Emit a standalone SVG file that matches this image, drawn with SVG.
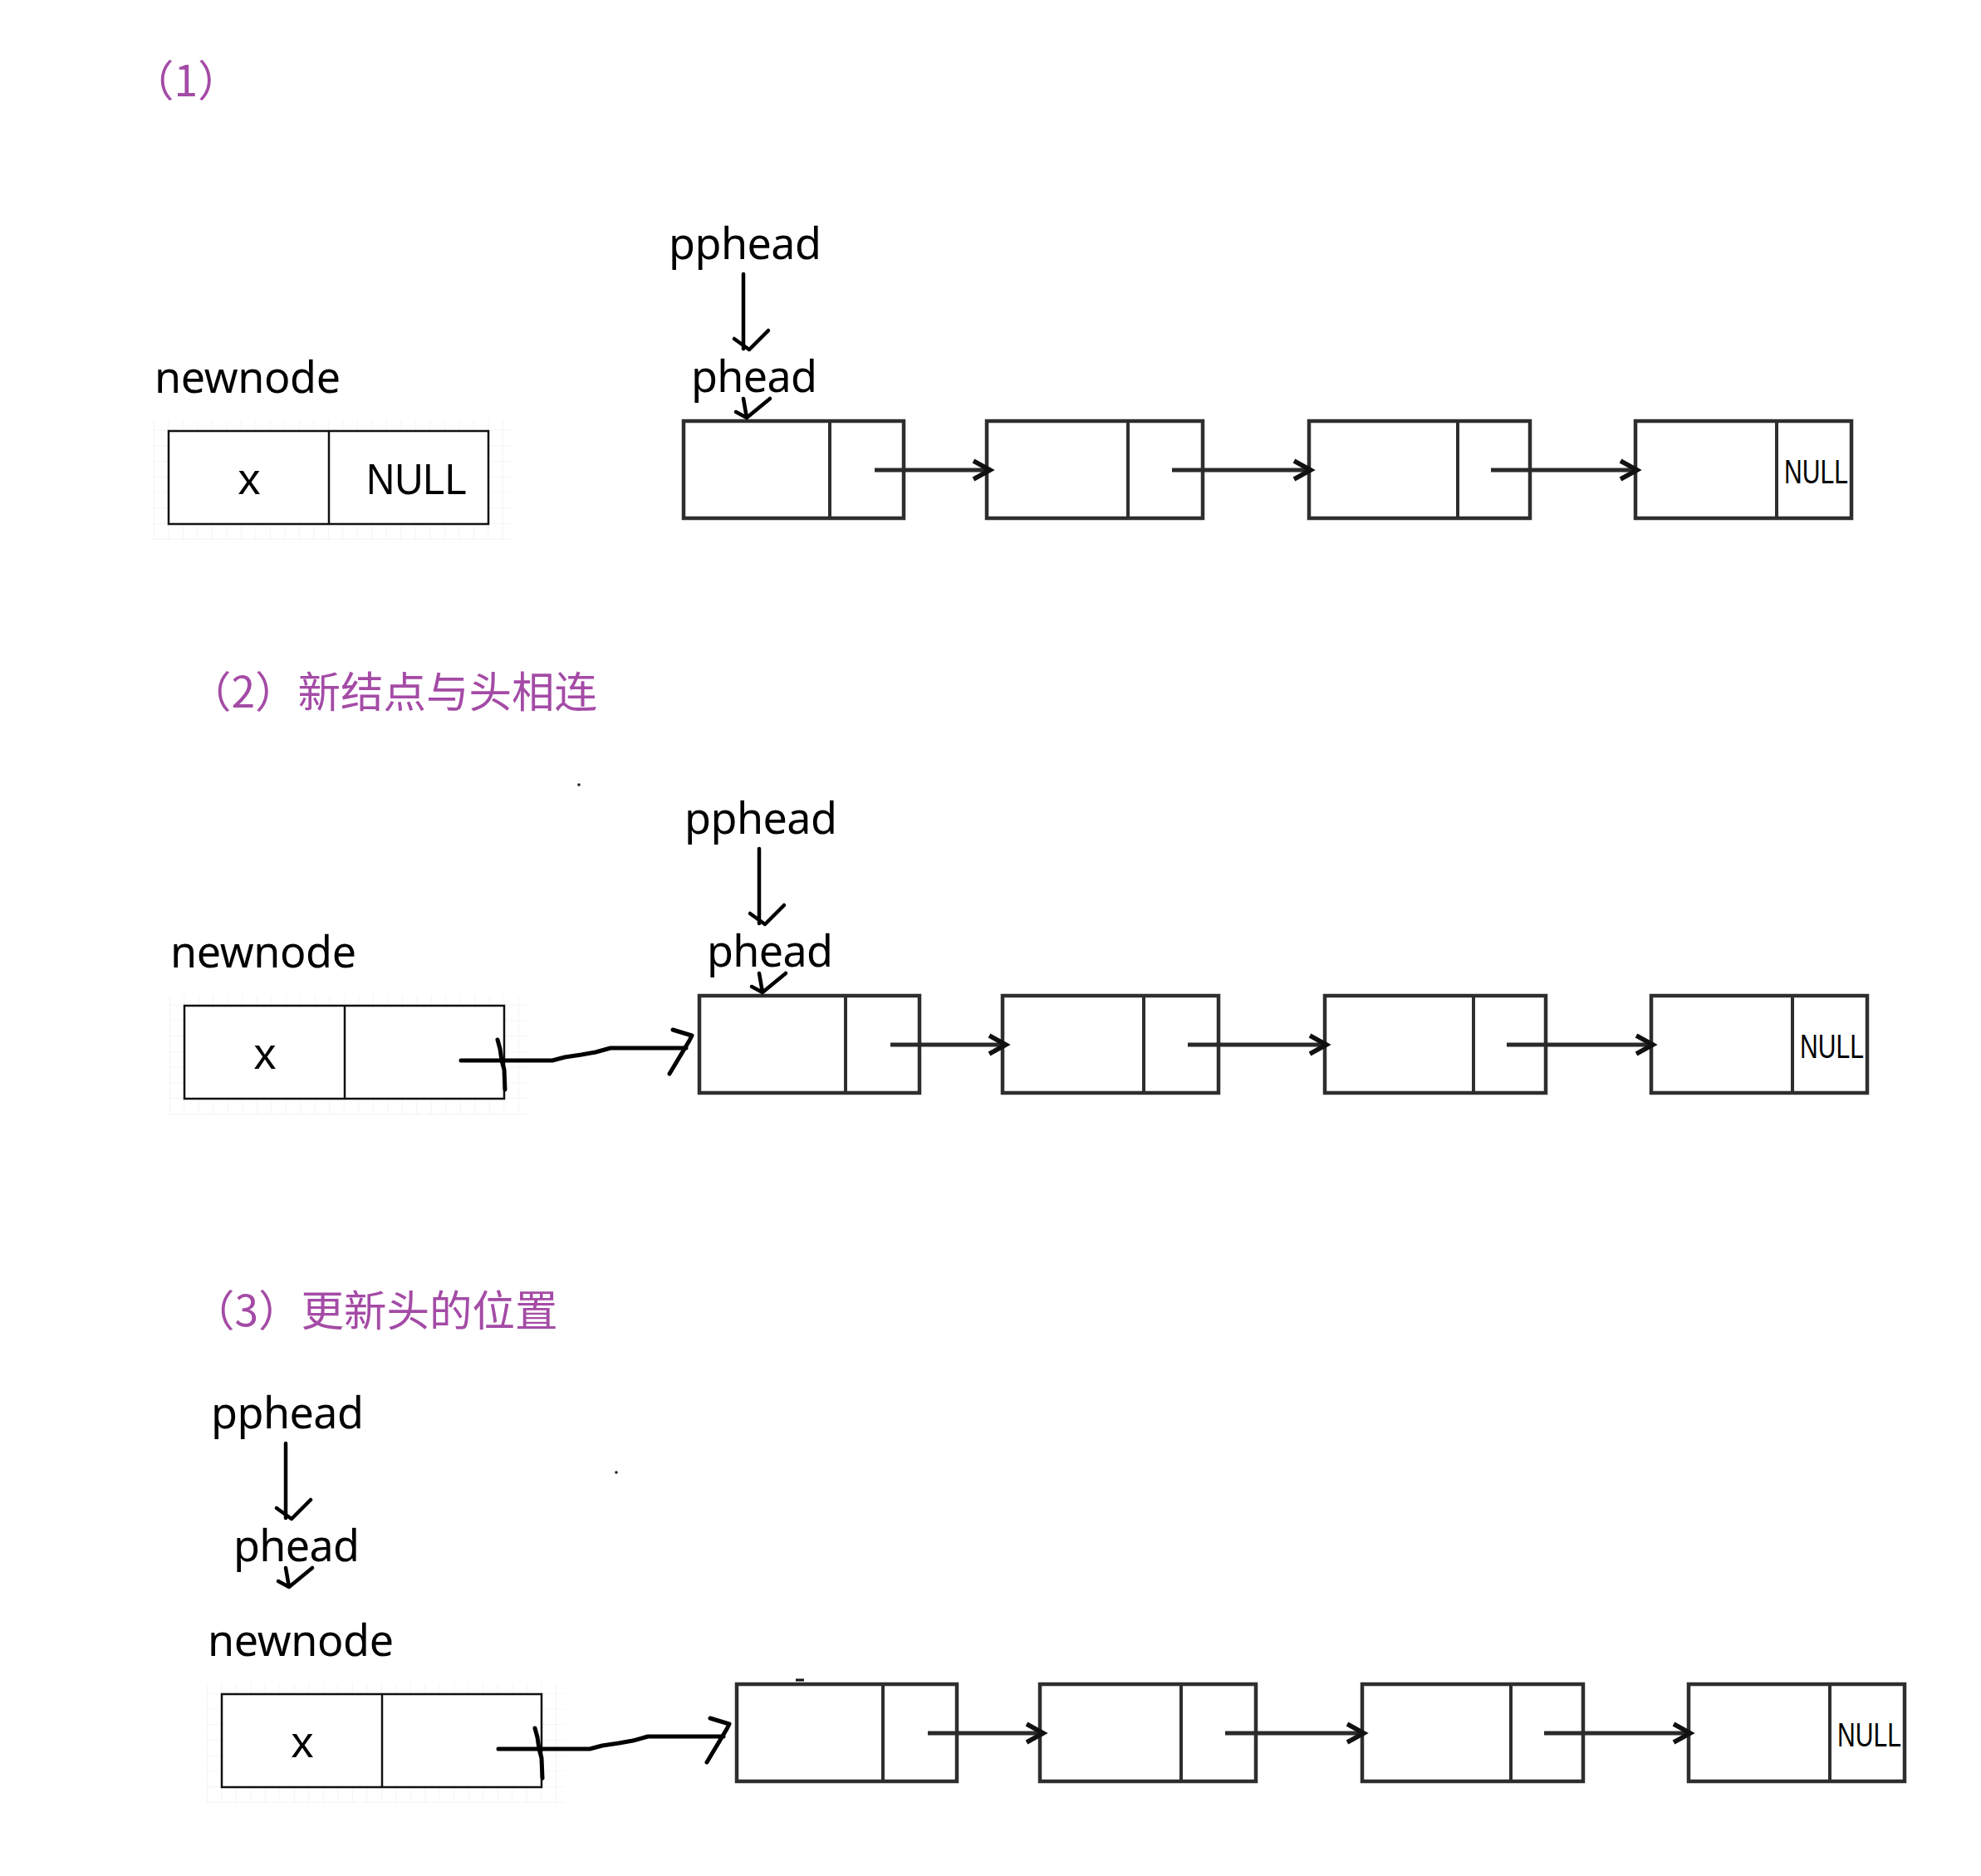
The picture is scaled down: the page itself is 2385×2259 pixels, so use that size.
<svg xmlns="http://www.w3.org/2000/svg" xmlns:xlink="http://www.w3.org/1999/xlink" width="2385" height="2259" viewBox="0 0 2385 2259">
<style>
.title{font-family:"Noto Sans CJK SC","Noto Sans",sans-serif;font-size:51.5px;fill:#a44ba6}
.lbl{font-family:"Noto Sans","Noto Sans CJK SC",sans-serif;font-size:52px;fill:#000}
.val{font-family:"Liberation Sans",Arial,sans-serif;fill:#000}
.ptr{fill:none;stroke:#000;stroke-width:4.5;stroke-linecap:round;stroke-linejoin:round}
.hand{fill:none;stroke:#000;stroke-width:5;stroke-linecap:round;stroke-linejoin:round}
.lnode{fill:#fff;stroke:#2e2e2e;stroke-width:4.5}
.ldiv{stroke:#2e2e2e;stroke-width:4}
.link{fill:none;stroke:#2a2a2a;stroke-width:5}
.nbox{fill:#fff;stroke:#111;stroke-width:2.5}
.ndiv{stroke:#111;stroke-width:2.5}
</style>
<defs>
<path id="ah" d="M-20,-11 L0,0 L-20,11" fill="none" stroke="#111" stroke-width="5.5" stroke-linejoin="miter"/>
<pattern id="grid" patternUnits="userSpaceOnUse" x="202.3" y="498.8" width="17.5" height="18.75">
<path d="M0,0 V18.75 M0,0 H17.5" fill="none" stroke="#ebebeb" stroke-width="1.2"/>
</pattern>
</defs>
<rect width="2385" height="2259" fill="#fff"/>

<g id="titles">
<text class="title" x="158" y="116">（1）</text>
<text class="title" x="227" y="852">（2）新结点与头相连</text>
<text class="title" x="231" y="1597">（3）更新头的位置</text>
</g>

<!-- Section 1 -->
<g id="sec1">
<g id="s1-labels">
<text class="lbl" x="805" y="312" textLength="184">pphead</text>
<text class="lbl" x="832" y="472" textLength="152">phead</text>
<text class="lbl" x="186" y="473" textLength="224">newnode</text>
</g>
<g id="s1-newnode">
<rect x="184" y="506" width="432" height="144" fill="url(#grid)"/>
<rect class="nbox" x="203" y="519" width="385" height="112"/>
<line class="ndiv" x1="396" y1="519" x2="396" y2="631"/>
<text class="val" x="300" y="595" font-size="54" text-anchor="middle">x</text>
<text class="val" x="441" y="595" font-size="52" textLength="121" lengthAdjust="spacingAndGlyphs">NULL</text>
</g>
<g id="s1-n1"><rect class="lnode" x="823" y="507" width="265" height="117"/><line class="ldiv" x1="999" y1="507" x2="999" y2="624"/></g>
<g id="s1-n2"><rect class="lnode" x="1188" y="507" width="260" height="117"/><line class="ldiv" x1="1358" y1="507" x2="1358" y2="624"/></g>
<g id="s1-n3"><rect class="lnode" x="1576" y="507" width="266" height="117"/><line class="ldiv" x1="1755" y1="507" x2="1755" y2="624"/></g>
<g id="s1-n4"><rect class="lnode" x="1969" y="507" width="260" height="117"/><line class="ldiv" x1="2139" y1="507" x2="2139" y2="624"/>
<text class="val" x="2148" y="582" font-size="40" textLength="77" lengthAdjust="spacingAndGlyphs">NULL</text></g>
<g id="s1-connectors">
<path class="ptr" d="M895,330 L895,420 M884,408 L902,421 L925,398"/>
<path class="ptr" d="M895,480 L899,503 M886,496 L899,503 L927,480"/>
<path class="link" d="M1053,566 H1190 M1411,566 H1576 M1795,566 H1969"/>
<use xlink:href="#ah" x="1192" y="566"/>
<use xlink:href="#ah" x="1578" y="566"/>
<use xlink:href="#ah" x="1971" y="566"/>
</g>
</g>

<!-- Section 2 -->
<g id="sec2" transform="translate(19,692)">
<g id="s2-labels">
<text class="lbl" x="805" y="312" textLength="184">pphead</text>
<text class="lbl" x="832" y="472" textLength="152">phead</text>
<text class="lbl" x="186" y="473" textLength="224">newnode</text>
</g>
<g id="s2-newnode">
<rect x="184" y="506" width="432" height="144" fill="url(#grid)"/>
<rect class="nbox" x="203" y="519" width="385" height="112"/>
<line class="ndiv" x1="396" y1="519" x2="396" y2="631"/>
<text class="val" x="300" y="595" font-size="54" text-anchor="middle">x</text>
</g>
<g id="s2-n1"><rect class="lnode" x="823" y="507" width="265" height="117"/><line class="ldiv" x1="999" y1="507" x2="999" y2="624"/></g>
<g id="s2-n2"><rect class="lnode" x="1188" y="507" width="260" height="117"/><line class="ldiv" x1="1358" y1="507" x2="1358" y2="624"/></g>
<g id="s2-n3"><rect class="lnode" x="1576" y="507" width="266" height="117"/><line class="ldiv" x1="1755" y1="507" x2="1755" y2="624"/></g>
<g id="s2-n4"><rect class="lnode" x="1969" y="507" width="260" height="117"/><line class="ldiv" x1="2139" y1="507" x2="2139" y2="624"/>
<text class="val" x="2148" y="582" font-size="40" textLength="77" lengthAdjust="spacingAndGlyphs">NULL</text></g>
<g id="s2-connectors">
<path class="ptr" d="M895,330 L895,420 M884,408 L902,421 L925,398"/>
<path class="ptr" d="M895,480 L899,503 M886,496 L899,503 L927,480"/>
<path class="link" d="M1053,566 H1190 M1411,566 H1576 M1795,566 H1969"/>
<use xlink:href="#ah" x="1192" y="566"/>
<use xlink:href="#ah" x="1578" y="566"/>
<use xlink:href="#ah" x="1971" y="566"/>
<path class="hand" d="M536,585 L646,585 L661,581 L681,578 L698,575 L716,570 L807,570"/>
<path class="hand" d="M580,560 L583,571 L585,585 L588,596 L589,620" stroke-width="4"/>
<path class="hand" d="M791,548 L814,555 L811,561 L787,601"/>
</g>
</g>
<circle cx="697" cy="945" r="1.8" fill="#222"/>

<!-- Section 3 -->
<g id="sec3">
<g id="s3-labels" transform="translate(-551,1408)">
<text class="lbl" x="805" y="312" textLength="184">pphead</text>
<text class="lbl" x="832" y="472" textLength="152">phead</text>
<path class="ptr" d="M895,330 L895,420 M884,408 L902,421 L925,398"/>
<path class="ptr" d="M895,480 L899,503 M886,496 L899,503 L927,480"/>
</g>
<g transform="translate(64,1521)">
<text class="lbl" x="186" y="473" textLength="224">newnode</text>
<g id="s3-newnode">
<rect x="184" y="506" width="432" height="144" fill="url(#grid)"/>
<rect class="nbox" x="203" y="519" width="385" height="112"/>
<line class="ndiv" x1="396" y1="519" x2="396" y2="631"/>
<text class="val" x="300" y="595" font-size="54" text-anchor="middle">x</text>
</g>
<g id="s3-n1"><rect class="lnode" x="823" y="507" width="265" height="117"/><line class="ldiv" x1="999" y1="507" x2="999" y2="624"/></g>
<g id="s3-n2"><rect class="lnode" x="1188" y="507" width="260" height="117"/><line class="ldiv" x1="1358" y1="507" x2="1358" y2="624"/></g>
<g id="s3-n3"><rect class="lnode" x="1576" y="507" width="266" height="117"/><line class="ldiv" x1="1755" y1="507" x2="1755" y2="624"/></g>
<g id="s3-n4"><rect class="lnode" x="1969" y="507" width="260" height="117"/><line class="ldiv" x1="2139" y1="507" x2="2139" y2="624"/>
<text class="val" x="2148" y="582" font-size="40" textLength="77" lengthAdjust="spacingAndGlyphs">NULL</text></g>
<g id="s3-connectors">
<path class="link" d="M1053,566 H1190 M1411,566 H1576 M1795,566 H1969"/>
<use xlink:href="#ah" x="1192" y="566"/>
<use xlink:href="#ah" x="1578" y="566"/>
<use xlink:href="#ah" x="1971" y="566"/>
<path class="hand" d="M536,585 L646,585 L661,581 L681,578 L698,575 L716,570 L807,570"/>
<path class="hand" d="M580,560 L583,571 L585,585 L588,596 L589,620" stroke-width="4"/>
<path class="hand" d="M791,548 L814,555 L811,561 L787,601"/>
</g>
</g>
<circle cx="742" cy="1773" r="1.8" fill="#222"/>
<path d="M958,2023 H968" stroke="#111" stroke-width="3"/>
</g>
</svg>
